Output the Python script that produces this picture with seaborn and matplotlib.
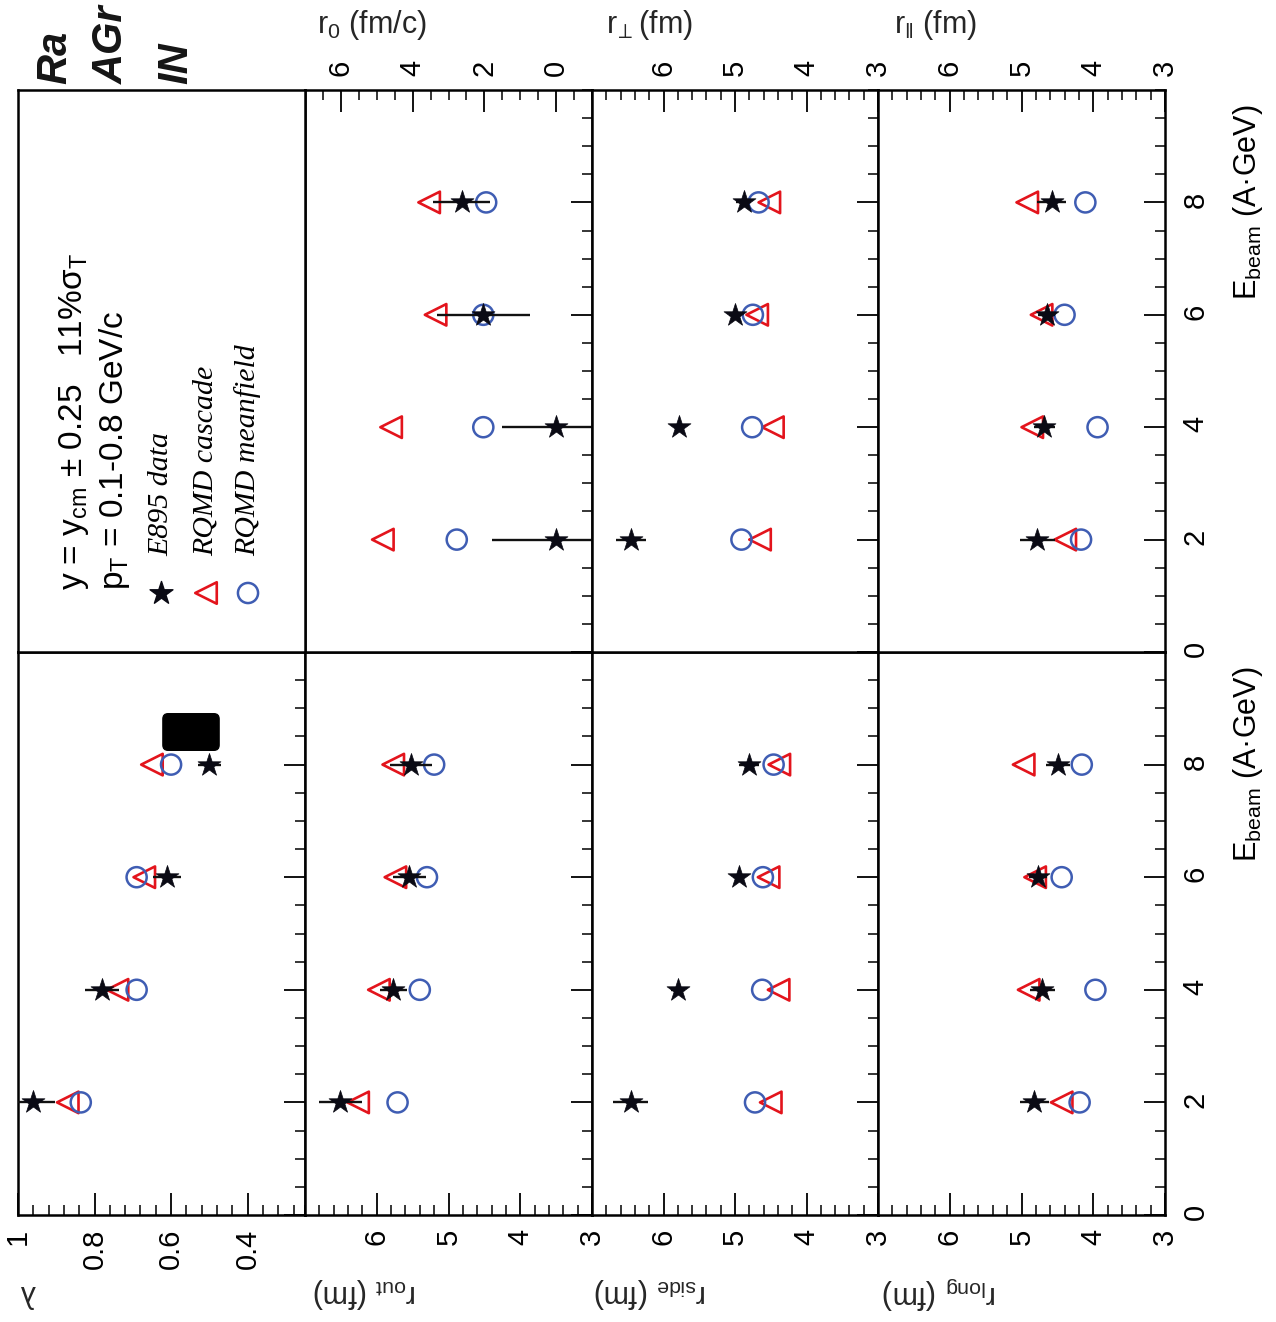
import numpy as np
import matplotlib
matplotlib.use("Agg")
import matplotlib.pyplot as plt
import seaborn as sns
import pandas as pd
from matplotlib.ticker import MultipleLocator
from matplotlib.patches import FancyBboxPatch

# ---------------- data ----------------
E_beam = [2, 4, 6, 8]

lam_data = [0.96, 0.78, 0.61, 0.50]
lam_err = [0.057, 0.045, 0.037, 0.030]
lam_casc = [0.87, 0.74, 0.67, 0.65]
lam_mf = [0.836, 0.69, 0.69, 0.60]

rout_data = [6.51, 5.77, 5.55, 5.52]
rout_err = [0.30, 0.19, 0.23, 0.29]
rout_casc = [6.26, 5.97, 5.74, 5.77]
rout_mf = [5.71, 5.40, 5.30, 5.20]

rside_data = [6.46, 5.80, 4.95, 4.81]
rside_err = [0.24, 0.10, 0.08, 0.14]
rside_casc = [4.50, 4.39, 4.53, 4.38]
rside_mf = [4.72, 4.62, 4.61, 4.46]

rlong_data = [4.82, 4.71, 4.77, 4.49]
rlong_err = [0.20, 0.17, 0.12, 0.17]
rlong_casc = [4.44, 4.90, 4.81, 4.97]
rlong_mf = [4.19, 3.97, 4.44, 4.16]

r0_data = [0.0, 0.0, 2.03, 2.63]
r0_err = [1.8, 1.5, 1.3, 0.79]
r0_casc = [4.83, 4.60, 3.36, 3.54]
r0_mf = [2.77, 2.03, 2.03, 1.95]

rperp_data = [6.45, 5.78, 5.00, 4.88]
rperp_err = [0.21, 0.08, 0.08, 0.10]
rperp_casc = [4.65, 4.47, 4.69, 4.52]
rperp_mf = [4.91, 4.76, 4.75, 4.67]

rpar_data = [4.78, 4.68, 4.65, 4.58]
rpar_err = [0.24, 0.15, 0.12, 0.20]
rpar_casc = [4.39, 4.85, 4.72, 4.92]
rpar_mf = [4.17, 3.94, 4.40, 4.11]

lam_ticks = [1.0, 0.8, 0.6, 0.4]
lam_ticklabels = ["1", "0.8", "0.6", "0.4"]
r_ticks = [6, 5, 4, 3]
r_ticklabels = ["6", "5", "4", "3"]
r0_ticks = [6, 4, 2, 0]
r0_ticklabels = ["6", "4", "2", "0"]
E_ticks = [0, 2, 4, 6, 8]
E_ticklabels = ["0", "2", "4", "6", "8"]

legend_labels = ["E895 data", "RQMD cascade", "RQMD meanfield"]
cond_line1 = r"y = y$_{\rm cm}$ ± 0.25   11%σ$_{\rm T}$"
cond_line2 = r"p$_{\rm T}$ = 0.1-0.8 GeV/c"

# ---------------- style ----------------
sns.set_theme(style="white")
plt.rcParams['font.family'] = ['Liberation Sans', 'DejaVu Sans']
plt.rcParams['mathtext.fontset'] = 'custom'
plt.rcParams['mathtext.rm'] = 'Liberation Sans'
plt.rcParams['mathtext.it'] = 'Liberation Sans:italic'
plt.rcParams['mathtext.fallback'] = 'stixsans'
plt.rcParams['axes.edgecolor'] = 'black'
plt.rcParams['axes.linewidth'] = 1.8
plt.rcParams['xtick.color'] = 'black'
plt.rcParams['ytick.color'] = 'black'
plt.rcParams['text.color'] = 'black'

RED = '#e3141c'
BLUE = '#3f5db3'

W, H = 1276, 1322
fig = plt.figure(figsize=(W / 100, H / 100), dpi=100)
fig.patch.set_facecolor('white')

colx = [18, 305, 592, 878, 1165]
rowy = [90, 652, 1215]


def add_ax(c, r):
    x0, x1 = colx[c], colx[c + 1]
    y0, y1 = rowy[r], rowy[r + 1]
    return fig.add_axes([x0 / W, 1 - y1 / H, (x1 - x0) / W, (y1 - y0) / H])


panels = [
    # (col, row, xlim, ticks, ticklabels, minor, label, label_xfrac, data, err, casc, mf)
    (0, 1, (1.0, 0.25), lam_ticks, lam_ticklabels, 0.04, "λ", 0.035,
     lam_data, lam_err, lam_casc, lam_mf),
    (1, 1, (7, 3), r_ticks, r_ticklabels, 0.2, r"r$_{\rm out}$ (fm)", 0.21,
     rout_data, rout_err, rout_casc, rout_mf),
    (2, 1, (7, 3), r_ticks, r_ticklabels, 0.2, r"r$_{\rm side}$ (fm)", 0.205,
     rside_data, rside_err, rside_casc, rside_mf),
    (3, 1, (7, 3), r_ticks, r_ticklabels, 0.2, r"r$_{\rm long}$ (fm)", 0.215,
     rlong_data, rlong_err, rlong_casc, rlong_mf),
    (1, 0, (7, -1), r0_ticks, r0_ticklabels, 0.5, r"r$_0$ (fm/c)", 0.233,
     r0_data, r0_err, r0_casc, r0_mf),
    (2, 0, (7, 3), r_ticks, r_ticklabels, 0.2, r"r$_{\!\bot\!\!}$ (fm)", 0.20,
     rperp_data, rperp_err, rperp_casc, rperp_mf),
    (3, 0, (7, 3), r_ticks, r_ticklabels, 0.2, r"r$_{\Vert}$ (fm)", 0.20,
     rpar_data, rpar_err, rpar_casc, rpar_mf),
]

for (c, r, xlim, ticks, tlabels, minor, label, lx, dat, err, casc, mf) in panels:
    ax = add_ax(c, r)
    df = pd.DataFrame({'E': E_beam, 'data': dat, 'err': err, 'casc': casc, 'mf': mf})
    sns.scatterplot(data=df, x='casc', y='E', marker='<', s=240, facecolor='none',
                    edgecolor=RED, linewidth=1.9, ax=ax, zorder=3)
    sns.scatterplot(data=df, x='mf', y='E', marker='o', s=210, facecolor='none',
                    edgecolor=BLUE, linewidth=1.8, ax=ax, zorder=3)
    ax.errorbar(df['data'], df['E'], xerr=df['err'], fmt='none', ecolor='#111111',
                elinewidth=1.7, capsize=0, zorder=4)
    sns.scatterplot(data=df, x='data', y='E', marker='*', s=300, color='#0a0a14',
                    edgecolor='#0a0a14', linewidth=0.5, ax=ax, zorder=5)

    ax.set_xlim(*xlim)
    ax.set_ylim(0, 10)
    ax.set_xticks(ticks, labels=tlabels)
    ax.xaxis.set_minor_locator(MultipleLocator(minor))
    ax.set_yticks(E_ticks, labels=E_ticklabels)
    ax.yaxis.set_minor_locator(MultipleLocator(0.5))

    bottom = (r == 1)
    ax.tick_params(axis='x', which='both', direction='in', bottom=bottom, top=not bottom,
                   labelbottom=bottom, labeltop=not bottom, labelrotation=90,
                   labelsize=21, pad=10)
    ax.tick_params(axis='x', which='major', length=16, width=1.3)
    ax.tick_params(axis='x', which='minor', length=7, width=1.1)
    ax.tick_params(axis='y', which='both', direction='in', left=False, right=True,
                   labelleft=False, labelright=(c == 3), labelrotation=90,
                   labelsize=21, pad=12)
    ax.tick_params(axis='y', which='major', length=15, width=1.3)
    ax.tick_params(axis='y', which='minor', length=7, width=1.1)
    ax.set_ylabel('')

    if bottom:
        ax.set_xlabel(label, fontsize=22, rotation=180, va='center', ha='center')
        ax.xaxis.set_label_coords(lx, -0.138)
    else:
        ax.xaxis.set_label_position('top')
        ax.set_xlabel(label, fontsize=22, rotation=0, va='center', ha='center')
        ax.xaxis.set_label_coords(lx, 1.116)

    if c == 3:
        ax.text(1.29, 0.80, r"E$_{\rm beam}$ (A·GeV)", rotation=90, ha='center',
                va='center', fontsize=22, transform=ax.transAxes)

    for s in ax.spines.values():
        s.set_linewidth(1.8)
        s.set_color('black')

# ---------------- legend panel ----------------
axl = add_ax(0, 0)
axl.set_xticks([])
axl.set_yticks([])
axl.set_xlim(0, 1)
axl.set_ylim(0, 1)
for s in axl.spines.values():
    s.set_linewidth(1.8)
    s.set_color('black')


def px(xp):
    return (xp - colx[0]) / (colx[1] - colx[0])


def py(yp):
    return (rowy[1] - yp) / (rowy[1] - rowy[0])


axl.text(px(74), py(590), cond_line1, rotation=90, rotation_mode='anchor',
         ha='left', va='center', fontsize=24)
axl.text(px(114), py(590), cond_line2, rotation=90, rotation_mode='anchor',
         ha='left', va='center', fontsize=24)

mk_y = py(593)
axl.scatter([px(161)], [mk_y], marker='*', s=300, color='#0a0a14', zorder=3)
axl.scatter([px(206)], [mk_y], marker='<', s=240, facecolor='none', edgecolor=RED,
            linewidths=1.9, zorder=3)
axl.scatter([px(248)], [mk_y], marker='o', s=210, facecolor='none', edgecolor=BLUE,
            linewidths=1.8, zorder=3)
for xp, lab in zip([161, 206, 248], legend_labels):
    axl.text(px(xp), py(556), lab, rotation=90, rotation_mode='anchor', ha='left',
             va='center', fontsize=21.5, family=['Liberation Serif', 'DejaVu Serif'],
             style='italic')

# ---------------- scan annotations (handwriting and ink blot) ----------------
for xp, txt in [(55, "Ra"), (112, "AGr"), (176, "IN")]:
    fig.text(xp / W, 1 - 84 / H, txt, rotation=90, rotation_mode='anchor', ha='left',
             va='center', fontsize=30, weight='bold', style='italic', color='#151515',
             family=['Liberation Sans', 'DejaVu Sans'])

blob = FancyBboxPatch((168 / W, 1 - 745 / H), 46 / W, 26 / H,
                      boxstyle="round,pad=0.004", transform=fig.transFigure,
                      facecolor='black', edgecolor='black', zorder=10)
fig.patches.append(blob)

fig.savefig("out.png", dpi=100, facecolor='white')
